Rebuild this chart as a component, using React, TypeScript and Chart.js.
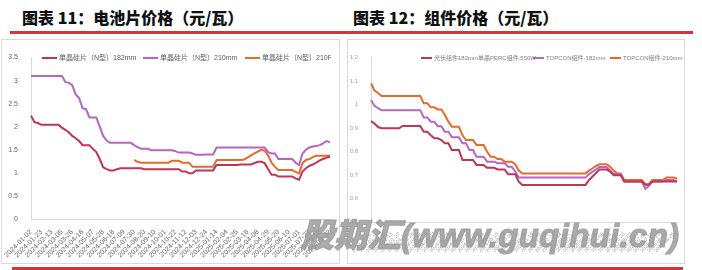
import React, { useEffect, useRef } from 'react';
import { Chart, registerables } from 'chart.js';
Chart.register(...registerables);

const dates = [
  '2024-01-02','2024-01-09','2024-01-16','2024-01-23','2024-01-30','2024-02-06','2024-02-13','2024-02-20','2024-02-27','2024-03-05',
  '2024-03-12','2024-03-19','2024-03-26','2024-04-02','2024-04-09','2024-04-16','2024-04-23','2024-04-30','2024-05-07','2024-05-14',
  '2024-05-21','2024-05-28','2024-06-04','2024-06-11','2024-06-18','2024-06-25','2024-07-02','2024-07-09','2024-07-16','2024-07-23',
  '2024-07-30','2024-08-06','2024-08-13','2024-08-20','2024-08-27','2024-09-03','2024-09-10','2024-09-17','2024-09-24','2024-10-01',
  '2024-10-08','2024-10-15','2024-10-22','2024-10-29','2024-11-05','2024-11-12','2024-11-19','2024-11-26','2024-12-03','2024-12-10',
  '2024-12-17','2024-12-24','2024-12-31','2025-01-07','2025-01-14','2025-01-21','2025-01-28','2025-02-04','2025-02-11','2025-02-18',
  '2025-02-25','2025-03-04','2025-03-11','2025-03-18','2025-03-25','2025-04-01','2025-04-08','2025-04-15','2025-04-22','2025-04-29',
  '2025-05-06','2025-05-13','2025-05-20','2025-05-27','2025-06-03','2025-06-10','2025-06-17','2025-06-24','2025-07-01','2025-07-08',
  '2025-07-15','2025-07-22','2025-07-29','2025-08-05','2025-08-12','2025-08-19','2025-08-26','2025-09-02',
];

// 图表11 电池片价格（元/瓦）
const cell182 = [
  2.24,2.1,2.08,2.04,2.04,2.04,2.04,2.04,2.04,1.98,
  1.93,1.88,1.8,1.75,1.69,1.6,1.6,1.6,1.52,1.45,
  1.3,1.12,1.08,1.05,1.05,1.08,1.1,1.1,1.1,1.1,
  1.1,1.1,1.1,1.08,1.08,1.08,1.08,1.08,1.08,1.08,
  1.08,1.08,1.08,1.08,1.03,1.03,0.99,0.99,1.05,1.05,
  1.05,1.05,1.05,1.05,1.17,1.17,1.17,1.17,1.17,1.17,
  1.17,1.18,1.18,1.18,1.18,1.21,1.24,1.24,1.21,1.08,
  0.96,0.96,0.92,0.92,0.92,0.92,0.92,0.88,0.85,1.03,
  1.1,1.15,1.18,1.22,1.27,1.3,1.33,1.35,
];
const cell210 = [
  3.1,3.1,3.1,3.1,3.1,3.1,3.1,3.1,3.1,3.1,
  2.97,2.95,2.9,2.7,2.62,2.4,2.38,2.2,2.2,2.2,
  2.0,1.8,1.7,1.65,1.65,1.65,1.65,1.65,1.65,1.65,
  1.6,1.56,1.52,1.52,1.52,1.49,1.49,1.49,1.49,1.49,
  1.49,1.49,1.47,1.44,1.44,1.44,1.44,1.42,1.39,1.39,
  1.39,1.4,1.4,1.4,1.55,1.55,1.55,1.55,1.55,1.55,
  1.55,1.55,1.55,1.55,1.55,1.55,1.55,1.55,1.55,1.45,
  1.42,1.42,1.3,1.3,1.3,1.3,1.3,1.22,1.17,1.42,
  1.5,1.55,1.57,1.58,1.6,1.64,1.69,1.66,
];
const cell210R = [
  null,null,null,null,null,null,null,null,null,null,
  null,null,null,null,null,null,null,null,null,null,
  null,null,null,null,null,null,null,null,null,null,
  1.28,1.24,1.22,1.22,1.22,1.22,1.22,1.22,1.22,1.22,
  1.22,1.26,1.26,1.26,1.22,1.22,1.22,1.13,1.13,1.13,
  1.13,1.13,1.13,1.13,1.28,1.28,1.28,1.28,1.28,1.28,
  1.28,1.28,1.29,1.33,1.38,1.42,1.46,1.5,1.48,1.38,
  1.22,1.13,1.06,1.06,1.06,1.06,1.06,1.02,0.99,1.21,
  1.28,1.3,1.34,1.37,1.37,1.37,1.37,1.37,
];

// 图表12 组件价格（元/瓦）
const modPerc = [
  0.93,0.92,0.905,0.9,0.9,0.9,0.9,0.9,0.9,0.91,
  0.91,0.91,0.91,0.91,0.91,0.885,0.885,0.87,0.857,0.857,
  0.85,0.836,0.836,0.807,0.807,0.807,0.765,0.765,0.765,0.765,
  0.744,0.744,0.744,0.732,0.732,0.732,0.725,0.725,0.725,0.704,
  0.704,0.704,0.673,0.659,0.659,0.659,0.659,0.659,0.659,0.659,
  0.659,0.659,0.659,0.659,0.659,0.659,0.659,0.659,0.659,0.659,
  0.659,0.659,0.68,0.695,0.71,0.725,0.725,0.725,0.715,0.7,
  0.7,0.7,0.673,0.673,0.673,0.673,0.673,0.673,0.66,0.66,
  0.673,0.673,0.673,0.673,0.673,0.673,0.673,0.673,
];
const modTop182 = [
  1.02,0.995,0.985,0.977,0.977,0.977,0.977,0.977,0.977,0.977,
  0.977,0.977,0.977,0.977,0.977,0.946,0.946,0.928,0.928,0.909,
  0.909,0.885,0.885,0.862,0.862,0.862,0.836,0.836,0.807,0.807,
  0.779,0.779,0.779,0.758,0.758,0.758,0.751,0.751,0.751,0.736,
  0.736,0.716,0.69,0.69,0.69,0.69,0.69,0.69,0.69,0.69,
  0.69,0.69,0.69,0.69,0.69,0.69,0.69,0.69,0.69,0.69,
  0.69,0.69,0.705,0.715,0.725,0.735,0.735,0.735,0.72,0.705,
  0.705,0.705,0.673,0.673,0.673,0.673,0.673,0.673,0.642,0.655,
  0.673,0.673,0.673,0.673,0.68,0.68,0.68,0.673,
];
const modTop210 = [
  1.09,1.06,1.05,1.037,1.037,1.037,1.037,1.037,1.037,1.037,
  1.037,1.037,1.037,1.037,1.037,1.006,1.006,0.989,0.989,0.98,
  0.98,0.956,0.928,0.906,0.906,0.906,0.87,0.85,0.85,0.85,
  0.829,0.829,0.829,0.8,0.779,0.779,0.769,0.769,0.758,0.758,
  0.758,0.747,0.72,0.708,0.708,0.708,0.708,0.708,0.708,0.708,
  0.708,0.708,0.708,0.708,0.708,0.708,0.708,0.708,0.708,0.708,
  0.708,0.708,0.72,0.73,0.74,0.747,0.747,0.747,0.736,0.72,
  0.708,0.708,0.68,0.68,0.68,0.68,0.68,0.68,0.662,0.662,
  0.68,0.68,0.68,0.68,0.69,0.69,0.69,0.685,
];

const leftTicks = [0, 0.5, 1, 1.5, 2, 2.5, 3, 3.5];
const rightTicks = [0.5, 0.6, 0.7, 0.8, 0.9, 1.0, 1.1, 1.2];

const C_RED = '#be3558';
const C_PURPLE = '#b565c6';
const C_ORANGE = '#e8692c';
const FONT = '"Liberation Sans", "Noto Sans CJK SC", sans-serif';

function LineChart(props: {
  datasets: { label: string; data: (number | null)[]; color: string }[];
  width: number; height: number;
  yMin: number; yMax: number; step: number;
  yWidth: number; xHeight: number; padTop: number; padRight: number;
  labelEvery: number; xFont: number; yFont: number; xColor: string; yColor: string; lineWidth: number;
}) {
  const ref = useRef<HTMLCanvasElement | null>(null);
  useEffect(() => {
    if (!ref.current) return;
    const p = props;
    const chart = new Chart(ref.current, {
      type: 'line',
      data: {
        labels: dates,
        datasets: p.datasets.map((d) => ({
          label: d.label,
          data: d.data,
          borderColor: d.color,
          backgroundColor: d.color,
          borderWidth: p.lineWidth,
          pointRadius: 0,
          tension: 0,
          fill: false,
        })),
      },
      options: {
        animation: false,
        responsive: false,
        maintainAspectRatio: false,
        layout: { padding: { top: p.padTop, right: p.padRight, left: 0, bottom: 0 } },
        plugins: { legend: { display: false }, tooltip: { enabled: false } },
        scales: {
          x: {
            grid: { display: false },
            border: { display: true, color: '#d9d9d9', width: 1 },
            ticks: {
              autoSkip: false,
              minRotation: 45,
              maxRotation: 45,
              padding: 1,
              color: p.xColor,
              font: { size: p.xFont, family: FONT },
              callback: (_v: any, i: number) => (i % p.labelEvery === 0 ? dates[i] : ''),
            },
            afterFit: (s: any) => { s.height = p.xHeight; },
          },
          y: {
            min: p.yMin,
            max: p.yMax,
            grid: { display: false },
            border: { display: true, color: '#d9d9d9', width: 1 },
            afterBuildTicks: (s: any) => {
              s.ticks = (p.yMax > 2 ? leftTicks : rightTicks).map((v) => ({ value: v }));
            },
            ticks: {
              padding: 5,
              color: p.yColor,
              font: { size: p.yFont, family: FONT },
              callback: (v: any) => String(Number(Number(v).toFixed(1))),
            },
            afterFit: (s: any) => { s.width = p.yWidth; },
          },
        },
      },
    } as any);
    return () => chart.destroy();
  }, []);
  return <canvas ref={ref} width={props.width} height={props.height} style={{ width: props.width, height: props.height, display: 'block' }} />;
}

function LegendItem(props: { x: number; y: number; color: string; text: string; lineW: number; size: number; textColor: string }) {
  return (
    <div style={{ position: 'absolute', left: props.x, top: props.y - 6, height: 12, display: 'flex', alignItems: 'center', whiteSpace: 'nowrap' }}>
      <div style={{ width: props.lineW, height: 2, background: props.color, marginRight: 2 }} />
      <span style={{ fontFamily: FONT, fontSize: props.size, color: props.textColor, lineHeight: '12px' }}>{props.text}</span>
    </div>
  );
}

export default function App() {
  const titleStyle: React.CSSProperties = {
    position: 'absolute', top: 8, fontFamily: '"Noto Sans CJK SC", sans-serif', fontWeight: 900,
    fontSize: 16, lineHeight: '18px', color: '#111', whiteSpace: 'nowrap',
  };
  return (
    <div style={{ position: 'fixed', left: 0, top: 0, width: 702, height: 270, background: '#fff', overflow: 'hidden' }}>
      <div style={{ ...titleStyle, left: 22 }}>图表 11：电池片价格（元/瓦）</div>
      <div style={{ ...titleStyle, left: 353 }}>图表 12：组件价格（元/瓦）</div>
      <div style={{ position: 'absolute', left: 10, top: 31, width: 683, height: 3, background: '#d2343b' }} />
      <div style={{ position: 'absolute', left: 12, top: 267, width: 671, height: 3, background: '#d2343b' }} />

      <div style={{ position: 'absolute', left: 1, top: 39, width: 337, height: 223, border: '1px solid #d9d9d9' }} />
      <div style={{ position: 'absolute', left: 347, top: 39, width: 336, height: 223, border: '1px solid #d9d9d9' }} />

      <div style={{ position: 'absolute', left: 2, top: 40 }}>
        <LineChart
          datasets={[
            { label: '单晶硅片（N型）182mm', data: cell182, color: C_RED },
            { label: '单晶硅片（N型）210mm', data: cell210, color: C_PURPLE },
            { label: '单晶硅片（N型）210R', data: cell210R, color: C_ORANGE },
          ]}
          width={336} height={222} yMin={0} yMax={3.5} step={0.5}
          yWidth={29} xHeight={43} padTop={17.5} padRight={8}
          labelEvery={3} xFont={7} yFont={7} xColor="#666" yColor="#666" lineWidth={2}
        />
      </div>
      <div style={{ position: 'absolute', left: 348, top: 40 }}>
        <LineChart
          datasets={[
            { label: '光伏组件182mm单晶PERC组件,550W', data: modPerc, color: C_RED },
            { label: 'TOPCON组件-182mm', data: modTop182, color: C_PURPLE },
            { label: 'TOPCON组件-210mm', data: modTop210, color: C_ORANGE },
          ]}
          width={335} height={222} yMin={0.5} yMax={1.2} step={0.1}
          yWidth={23} xHeight={39.7} padTop={17.7} padRight={6}
          labelEvery={2} xFont={5} yFont={6} xColor="#999" yColor="#a0a0b0" lineWidth={2}
        />
      </div>

      <div style={{ position: 'absolute', left: 0, top: 0, width: 331, height: 270, overflow: 'hidden' }}>
        <LegendItem x={42} y={58} color={C_RED} text="单晶硅片（N型）182mm" lineW={15} size={7} textColor="#595959" />
        <LegendItem x={143} y={58} color={C_PURPLE} text="单晶硅片（N型）210mm" lineW={15} size={7} textColor="#595959" />
        <LegendItem x={245} y={58} color={C_ORANGE} text="单晶硅片（N型）210R" lineW={15} size={7} textColor="#595959" />
      </div>
      <LegendItem x={421} y={57.5} color={C_RED} text="光伏组件182mm单晶PERC组件,550W" lineW={11} size={6} textColor="#7f7f7f" />
      <LegendItem x={533} y={57.5} color={C_PURPLE} text="TOPCON组件-182mm" lineW={11} size={6} textColor="#7f7f7f" />
      <LegendItem x={610} y={57.5} color={C_ORANGE} text="TOPCON组件-210mm" lineW={11} size={6} textColor="#7f7f7f" />

      <div style={{
        position: 'absolute', left: 301, top: 219, fontFamily: '"Liberation Sans", "Noto Sans CJK SC", sans-serif',
        fontWeight: 900, fontStyle: 'italic', fontSize: 33, lineHeight: '33px', color: 'rgba(150,150,150,0.8)', whiteSpace: 'nowrap',
        WebkitTextStroke: '1px rgba(150,150,150,0.8)', letterSpacing: 0.3,
      }}>股期汇(www.guqihui.cn)</div>
    </div>
  );
}
